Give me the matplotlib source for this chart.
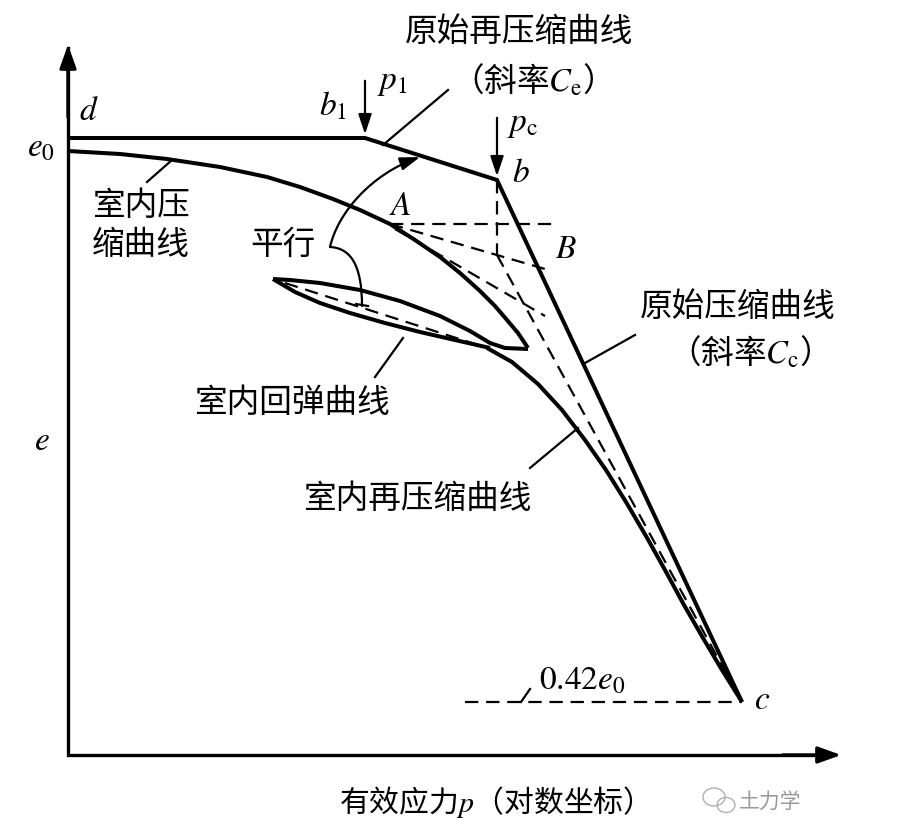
import matplotlib
matplotlib.use("Agg")
import matplotlib.pyplot as plt
from matplotlib.path import Path
from matplotlib.patches import FancyArrowPatch, Ellipse

plt.rcParams["mathtext.fontset"] = "stix"
CJK = ["Noto Sans CJK SC", "DejaVu Sans"]

# ---- schematic values (pixel-like units, y grows downward) ----
# field curve d - b1 - b - c
field_x = [68, 365, 497, 742]
field_e = [138, 138, 180, 702]

# laboratory compression curve, ends at the loop tip
lab_x = [68, 120, 167, 220, 267, 300, 333, 360, 390, 415, 440, 460, 480, 495, 507, 518, 528]
lab_e = [151, 154, 159, 167, 177, 187, 199, 210, 224, 240, 257, 273, 291, 306, 320, 333, 348]

# rebound (upper) and reload (lower) branches of the loop
rebound_x = [528, 505, 490, 470, 440, 400, 360, 320, 290, 273]
rebound_e = [349, 348, 343, 331, 316, 301, 290, 283, 280, 279]
reload_x = [273, 295, 320, 350, 385, 420, 455, 490]
reload_e = [279, 292, 303, 313, 323, 332, 340, 348]

# laboratory recompression curve down to c
relab_x = [487, 512, 538, 562, 585, 606, 626, 646, 665, 684, 703, 722, 742]
relab_e = [348, 362, 384, 410, 440, 470, 502, 536, 570, 605, 638, 670, 702]

# Casagrande construction (dashed)
point_A = (390, 224)
horiz_end = (555, 224)
bisect_end = (552, 271)
tangent_end = (545, 316)
pc_on_bisector = (497, 255)
chord_x = [285, 475]
chord_e = [283, 344]
e_042 = 702
e_042_x = [465, 742]

fig = plt.figure(figsize=(9.09, 8.38), dpi=100)
ax = fig.add_axes([0, 0, 1, 1])
ax.set_xlim(0, 909)
ax.set_ylim(838, 0)
ax.axis("off")

thick = dict(color="black", lw=2.9, solid_capstyle="butt", solid_joinstyle="miter")
dash = dict(color="black", lw=1.6, linestyle=(0, (6, 3.5)))
thin = dict(color="black", lw=1.6)

# axes with arrows
ax.plot([68, 68, 820], [48, 755, 755], color="black", lw=2.4, solid_joinstyle="miter")
ax.add_patch(FancyArrowPatch((68, 120), (68, 42), arrowstyle="-|>,head_length=14,head_width=5",
                             mutation_scale=1, color="black", lw=2.4))
ax.add_patch(FancyArrowPatch((780, 755), (844, 755), arrowstyle="-|>,head_length=14,head_width=5",
                             mutation_scale=1, color="black", lw=2.4))

# solid curves
ax.plot(field_x, field_e, **thick)
ax.plot(lab_x, lab_e, **thick)
ax.plot(rebound_x, rebound_e, **thick)
ax.plot(reload_x, reload_e, **thick)
ax.plot(relab_x, relab_e, **thick)

# dashed construction lines
ax.plot([point_A[0], horiz_end[0]], [point_A[1], horiz_end[1]], **dash)
ax.plot([point_A[0], bisect_end[0]], [point_A[1], bisect_end[1]], **dash)
ax.plot([395, tangent_end[0]], [229, tangent_end[1]], **dash)
ax.plot([field_x[2], pc_on_bisector[0]], [field_e[2], pc_on_bisector[1]], **dash)
ax.plot([pc_on_bisector[0], field_x[3]], [pc_on_bisector[1], field_e[3]], **dash)
ax.plot(chord_x, chord_e, **dash)
ax.plot(e_042_x, [e_042, e_042], **dash)
ax.plot([521, 530], [702, 689], **thin)

# load arrows p1 and pc
for xa, y0, y1 in [(365, 78, 137), (497, 115, 179)]:
    ax.add_patch(FancyArrowPatch((xa, y0), (xa, y1), arrowstyle="-|>,head_length=12,head_width=4",
                                 mutation_scale=1, color="black", lw=1.6))

# "parallel" curved arrow
hook = Path([(330, 247), (350, 248), (362, 264), (362, 306)],
            [Path.MOVETO, Path.CURVE4, Path.CURVE4, Path.CURVE4])
ax.add_patch(FancyArrowPatch(path=hook, arrowstyle="-", color="black", lw=1.6))
arc = Path([(330, 247), (338, 212), (372, 174), (420, 157)],
           [Path.MOVETO, Path.CURVE4, Path.CURVE4, Path.CURVE4])
ax.add_patch(FancyArrowPatch(path=arc, arrowstyle="-|>,head_length=12,head_width=4",
                             mutation_scale=1, color="black", lw=1.6))
ax.plot([356, 368], [304, 306], **thin)

# leader lines
ax.plot([448, 383], [90, 145], **thin)
ax.plot([635, 585], [335, 363], **thin)
ax.plot([147, 172], [182, 160], **thin)
ax.plot([375, 403], [377, 338], **thin)
ax.plot([530, 578], [468, 428], **thin)

# italic letters
lat = dict(fontsize=24, ha="center", va="center")
ax.text(41, 147, r"$e_0$", **lat)
ax.text(89, 111, r"$d$", **lat)
ax.text(333, 106, r"$b_1$", **lat)
ax.text(392, 82, r"$p_1$", **lat)
ax.text(523, 124, r"$p_{\mathrm{c}}$", **lat)
ax.text(521, 172, r"$b$", **lat)
ax.text(400, 205, r"$A$", **lat)
ax.text(566, 248, r"$B$", **lat)
ax.text(762, 699, r"$c$", **lat)
ax.text(42, 440, r"$e$", **lat)
ax.text(582, 680, r"$0.42e_0$", **lat)

# Chinese labels
cjk = dict(fontsize=23.5, ha="center", va="center", family=CJK)
ax.text(519, 32, "原始再压缩曲线", **cjk)
ax.text(523, 80, r"（斜率$C_{\mathrm{e}}$）", **cjk)
ax.text(738, 307, "原始压缩曲线", **cjk)
ax.text(740, 352, r"（斜率$C_{\mathrm{c}}$）", **cjk)
ax.text(141, 206, "室内压", **cjk)
ax.text(141, 245, "缩曲线", **cjk)
ax.text(283, 245, "平行", **cjk)
ax.text(292, 403, "室内回弹曲线", **cjk)
ax.text(417, 499, "室内再压缩曲线", **cjk)
ax.text(486, 802, r"有效应力$p$（对数坐标）", fontsize=21.5, ha="center", va="center", family=CJK)

# faint watermark
ax.add_patch(Ellipse((714, 797), 22, 18, fill=False, ec="#b0b0b0", lw=1))
ax.add_patch(Ellipse((726, 805), 18, 15, fill=False, ec="#b0b0b0", lw=1))
ax.text(770, 802, "土力学", fontsize=15, ha="center", va="center", family=CJK, color="#9a9a9a")

fig.savefig("out.png", dpi=100, facecolor="white")
